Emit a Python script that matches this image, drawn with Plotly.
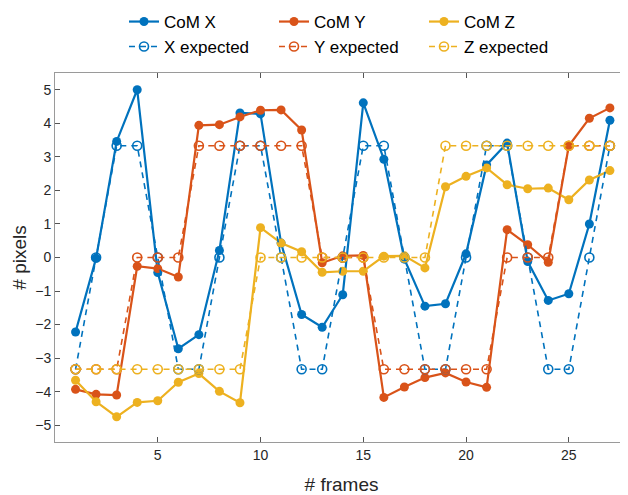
import plotly.graph_objects as go

frames = list(range(1, 28))

com_x = [-2.22, -0.02, 3.46, 5.0, -0.45, -2.72, -2.30, 0.21, 4.31, 4.28, 0.43, -1.70, -2.08,
         -1.11, 4.61, 2.93, -0.05, -1.45, -1.38, 0.11, 2.76, 3.41, -0.12, -1.28, -1.08, 1.0, 4.09]
com_y = [-3.93, -4.08, -4.10, -0.26, -0.33, -0.58, 3.94, 3.96, 4.19, 4.39, 4.40, 3.80, -0.16,
         0.05, 0.06, -4.17, -3.86, -3.58, -3.44, -3.71, -3.87, 0.83, 0.38, -0.14, 3.33, 4.15, 4.46]
com_z = [-3.66, -4.30, -4.75, -4.32, -4.27, -3.72, -3.46, -3.99, -4.33, 0.89, 0.43, 0.17, -0.44,
         -0.41, -0.41, 0.04, 0.05, -0.31, 2.11, 2.42, 2.67, 2.17, 2.05, 2.07, 1.72, 2.31, 2.59]

E = 3.333
exp_x = [-E, 0, E, E, 0, -E, -E, 0, E, E, 0, -E, -E, 0, E, E, 0, -E, -E, 0, E, E, 0, -E, -E, 0, E]
exp_y = [-E, -E, -E, 0, 0, 0, E, E, E, E, E, E, 0, 0, 0, -E, -E, -E, -E, -E, -E, 0, 0, 0, E, E, E]
exp_z = [-E, -E, -E, -E, -E, -E, -E, -E, -E, 0, 0, 0, 0, 0, 0, 0, 0, 0, E, E, E, E, E, E, E, E, E]

y_ticks = [-5, -4, -3, -2, -1, 0, 1, 2, 3, 4, 5]
x_ticks = [5, 10, 15, 20, 25]

colors = ["#0072BD", "#D95319", "#EDB120"]
FONT = "Liberation Sans, Arial, sans-serif"

# page body has an 8px margin; figure is sized/offset to compensate
W, H = 620, 487

fig = go.Figure()
for name, vals, c in [("CoM X", com_x, colors[0]), ("CoM Y", com_y, colors[1]), ("CoM Z", com_z, colors[2])]:
    fig.add_trace(go.Scatter(x=frames, y=vals, name=name, mode="lines+markers",
                             line=dict(color=c, width=2.2),
                             marker=dict(color=c, size=9, symbol="circle"),
                             legend="legend"))
for name, vals, c in [("X expected", exp_x, colors[0]), ("Y expected", exp_y, colors[1]), ("Z expected", exp_z, colors[2])]:
    fig.add_trace(go.Scatter(x=frames, y=vals, name=name, mode="lines+markers",
                             line=dict(color=c, width=1.6, dash="6px,5px"),
                             marker=dict(color=c, size=9, symbol="circle-open",
                                         line=dict(color=c, width=1.6)),
                             legend="legend2"))

axis_common = dict(showgrid=False, zeroline=False, showline=True, mirror="ticks",
                   linecolor="#9a9a9a", linewidth=1, ticks="inside", ticklen=5,
                   tickcolor="#555555", automargin=False,
                   tickfont=dict(family=FONT, size=14, color="#262626"))

fig.update_xaxes(range=[0, 27.88], tickvals=x_ticks,
                 title=dict(text="# frames", font=dict(family=FONT, size=19, color="#262626"), standoff=17),
                 **axis_common)
fig.update_yaxes(range=[-5.5, 5.5], tickvals=y_ticks,
                 title=dict(text="# pixels", font=dict(family=FONT, size=19, color="#262626"), standoff=3),
                 **axis_common)

leg = dict(orientation="h", xref="container", yref="container", x=116 / W, xanchor="left",
           yanchor="middle", entrywidth=105, bgcolor="rgba(0,0,0,0)",
           font=dict(family=FONT, size=17, color="#000000"), tracegroupgap=0)
fig.update_layout(
    width=W, height=H,
    margin=dict(l=46.5, r=0, t=65.3, b=53, autoexpand=False),
    plot_bgcolor="white", paper_bgcolor="white",
    legend=dict(leg, y=1 - 14 / H),
    legend2=dict(leg, y=1 - 39 / H),
)

fig.write_html("out.html")
